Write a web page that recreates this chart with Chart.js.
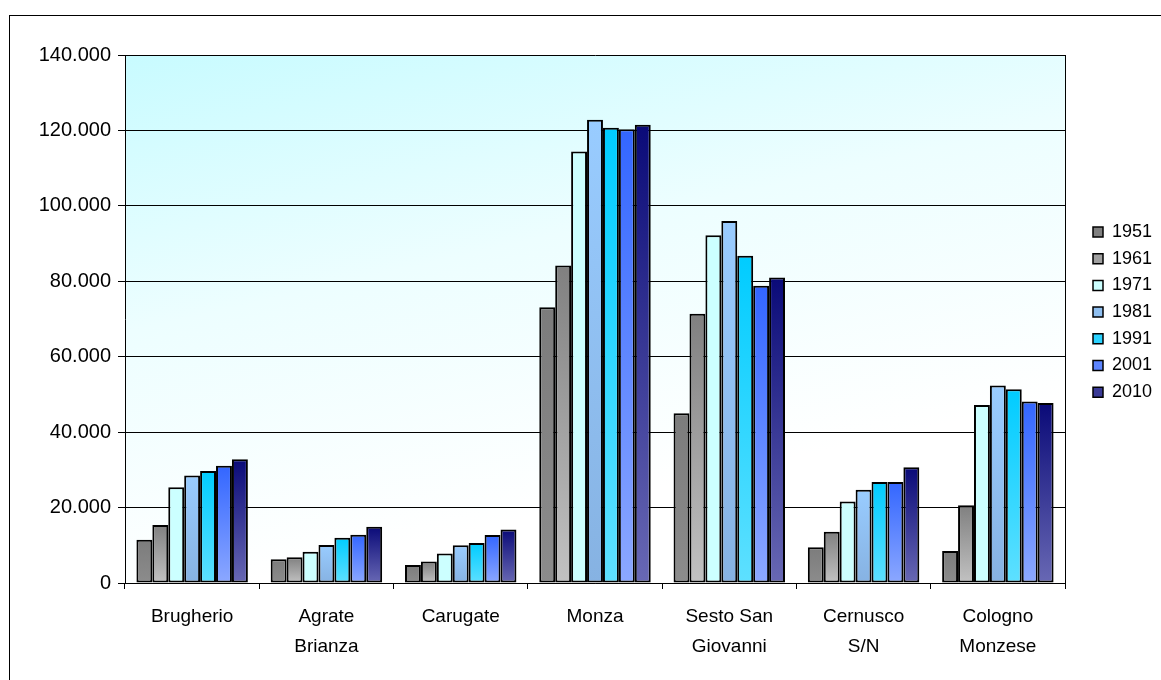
<!DOCTYPE html>
<html lang="it">
<head>
<meta charset="UTF-8">
<title>Popolazione residente 1951-2010</title>
<script src="https://cdn.jsdelivr.net/npm/chart.js@4.4.0/dist/chart.umd.min.js"></script>
<style>
    html, body { margin: 0; padding: 0; background: #fff; overflow: hidden; }
    .cornice {
        position: absolute;
        left: 9px;
        top: 15px;
        width: 1300px;
        height: 720px;
        border: 1px solid #000;
    }
    .grafico {
        position: absolute;
        left: 0;
        top: 0;
        width: 1240px;
        height: 664px;
    }
</style>
</head>
<body>
<div class="cornice">
    <div class="grafico"><canvas id="popolazione"></canvas></div>
</div>

<script>
// comuni (asse x)
const comuni = ['Brugherio', ['Agrate', 'Brianza'], 'Carugate', 'Monza',
    ['Sesto San', 'Giovanni'], ['Cernusco', 'S/N'], ['Cologno', 'Monzese']];

// anni del censimento
const anni = ['1951', '1961', '1971', '1981', '1991', '2001', '2010'];

// abitanti per anno, nello stesso ordine dei comuni
const pop1951 = [11500, 6300, 4800, 73100, 45000, 9500, 8500];
const pop1961 = [15400, 6800, 5700, 84200, 71400, 13600, 20600];
const pop1971 = [25400, 8300, 7800, 114400, 92200, 21600, 47200];
const pop1981 = [28500, 10100, 10000, 122800, 96000, 24700, 52400];
const pop1991 = [29700, 12000, 10600, 120700, 86800, 26800, 51400];
const pop2001 = [31100, 12800, 12700, 120300, 78800, 26800, 48100];
const pop2010 = [32800, 14900, 14200, 121500, 81000, 30700, 47700];

// etichette asse y
const yMax = 140000;
const yPasso = 20000;

const serie = [pop1951, pop1961, pop1971, pop1981, pop1991, pop2001, pop2010];

// colori: [alto, basso] del gradiente di ogni barra, piu' un colore pieno per la legenda
const colori = [
    ['#7c7c7c', '#8c8c8c', '#808080'],
    ['#808080', '#c2c2c2', '#a0a0a0'],
    ['#ccffff', '#ccffff', '#ccffff'],
    ['#99ccff', '#86b2e2', '#8fbff0'],
    ['#00ccff', '#5ee0ff', '#2ad2ff'],
    ['#3366ff', '#8ca8ff', '#5d85ff'],
    ['#0a0a78', '#6868b4', '#3a3a96']
];

function formatta(v) {
    return String(v).replace(/\B(?=(\d{3})+(?!\d))/g, '.');
}

// gradiente verticale per ogni singola barra (dalla cima fino allo zero)
function riempimento(alto, basso) {
    return function (c) {
        const chart = c.chart;
        if (c.type !== 'data' || !chart.chartArea) return basso;
        const y = chart.scales.y;
        const y0 = y.getPixelForValue(c.raw);
        const y1 = y.getPixelForValue(0);
        if (!isFinite(y0) || !isFinite(y1) || y0 === y1) return alto;
        const g = chart.ctx.createLinearGradient(0, y0, 0, y1);
        g.addColorStop(0, alto);
        g.addColorStop(1, basso);
        return g;
    };
}

// sfondo dell'area del grafico + bordo destro
const sfondoArea = {
    id: 'sfondoArea',
    beforeDraw(chart) {
        const a = chart.chartArea;
        const ctx = chart.ctx;
        ctx.save();
        const g = ctx.createLinearGradient(a.left, a.top, a.left + 120, a.bottom);
        g.addColorStop(0, '#c8fbff');
        g.addColorStop(0.5, '#edfeff');
        g.addColorStop(1, '#ffffff');
        ctx.fillStyle = g;
        ctx.fillRect(a.left, a.top, a.right - a.left, a.bottom - a.top);
        ctx.strokeStyle = '#000';
        ctx.lineWidth = 1;
        ctx.beginPath();
        ctx.moveTo(Math.round(a.right) + 0.5, a.top);
        ctx.lineTo(Math.round(a.right) + 0.5, a.bottom);
        ctx.stroke();
        ctx.restore();
    }
};

// sposta la legenda dove sta nell'originale
const posLegenda = {
    id: 'posLegenda',
    afterLayout(chart) {
        const lg = chart.legend;
        const pad = lg.options.labels.padding;
        const fs = lg.options.labels.font.size;
        lg.left = chart.chartArea.right + 28 - pad;
        lg.right = lg.left + 200;
        lg.top = 232 - 16 - fs / 2 - pad;
        lg.bottom = lg.top + 400;
    }
};

const datasets = serie.map((dati, i) => ({
    label: anni[i],
    data: dati,
    backgroundColor: riempimento(colori[i][0], colori[i][1]),
    borderColor: '#000',
    borderWidth: 2,
    borderSkipped: false,
    barPercentage: 1,
    categoryPercentage: 0.83
}));

Chart.defaults.font.family = 'Arial, "Liberation Sans", sans-serif';
Chart.defaults.color = '#000';

new Chart(document.getElementById('popolazione'), {
    type: 'bar',
    data: { labels: comuni, datasets: datasets },
    plugins: [sfondoArea, posLegenda],
    options: {
        responsive: true,
        maintainAspectRatio: false,
        animation: false,
        layout: { padding: { top: 39, left: 0, right: 145, bottom: 7 } },
        plugins: {
            title: { display: false },
            tooltip: { enabled: false },
            legend: {
                position: 'right',
                align: 'start',
                maxWidth: 40,
                labels: {
                    font: { size: 18 },
                    color: '#000',
                    boxWidth: 10,
                    boxHeight: 10,
                    padding: 8.7,
                    generateLabels(chart) {
                        return anni.map((a, i) => ({
                            text: a,
                            fillStyle: colori[i][2],
                            strokeStyle: '#000',
                            lineWidth: 1.5,
                            hidden: false,
                            datasetIndex: i
                        }));
                    }
                }
            }
        },
        scales: {
            x: {
                afterFit(scale) { scale.height = 90; },
                grid: {
                    offset: true,
                    drawOnChartArea: false,
                    color: '#000',
                    tickLength: 6
                },
                border: { display: true, color: '#000', width: 1 },
                ticks: {
                    font: { size: 19, lineHeight: 1.58 },
                    color: '#000',
                    padding: 13,
                    maxRotation: 0,
                    autoSkip: false
                }
            },
            y: {
                min: 0,
                max: yMax,
                afterFit(scale) { scale.width = 115; },
                grid: {
                    color: '#000',
                    lineWidth: 1,
                    tickLength: 7,
                    tickColor: '#000'
                },
                border: { display: true, color: '#000', width: 1 },
                ticks: {
                    stepSize: yPasso,
                    font: { size: 20 },
                    color: '#000',
                    padding: 7,
                    callback: v => formatta(v)
                }
            }
        }
    }
});
</script>
</body>
</html>
